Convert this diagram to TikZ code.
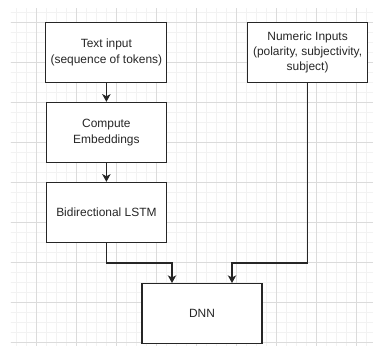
\documentclass[tikz,border=0pt]{standalone}
\usepackage{fontspec}
\setmainfont{Liberation Sans}
\usetikzlibrary{arrows.meta,positioning}
\tikzset{
	box/.style={draw=black!85,line width=0.8pt,rectangle,align=center,minimum width=3cm,minimum height=1.5cm,text=black!85,font=\fontsize{8.5}{11}\selectfont},
	gridminor/.style={draw=black!5,line width=0.4pt},
	gridmajor/.style={draw=black!14,line width=0.4pt},
	every new ->/.style={shorten >=0pt},
	link/.style={draw=black!85,line width=0.8pt,-{Stealth[length=5.5pt,width=6pt,inset=1.5pt]}}
}

\begin{document}
\begin{tikzpicture}
			\useasboundingbox (0,0) rectangle (9.325,-8.625);
			% background grid
			\begin{scope}
				\clip (0.275,-0.2) rectangle (9.325,-8.625);
				\draw[gridminor,step=0.25cm,shift={(0.9,-0.55)}] (-1,-9) grid (9,1);
				\draw[gridmajor,step=1cm,shift={(0.9,-0.55)}] (-1,-9) grid (9,1);
			\end{scope}
			
			\node[box,fill=white] (txt) at (2.66,-1.31) {Text input\\(sequence of tokens)};
			\node[box,fill=white] (emb) at (2.66,-3.31) {Compute\\Embeddings};
			\node[box,fill=white] (lstm) at (2.66,-5.31) {Bidirectional LSTM};
			\node[box,fill=white] (num) at (7.69,-1.31) {Numeric Inputs\\(polarity, subjectivity,\\subject)};
			\node[box,fill=white] (dnn) at (5.05,-7.84) {DNN};
			\coordinate (jl) at (4.3,-6.575);
			\coordinate (jr) at (5.8,-6.575);
			
			\draw[link] (txt) -- (emb);
			\draw[link] (emb) -- (lstm);
			\draw[link] (lstm) |- (jl) -- (jl |- dnn.north);
			\draw[link] (num) |- (jr) -- (jr |- dnn.north);
		\end{tikzpicture}
\end{document}
